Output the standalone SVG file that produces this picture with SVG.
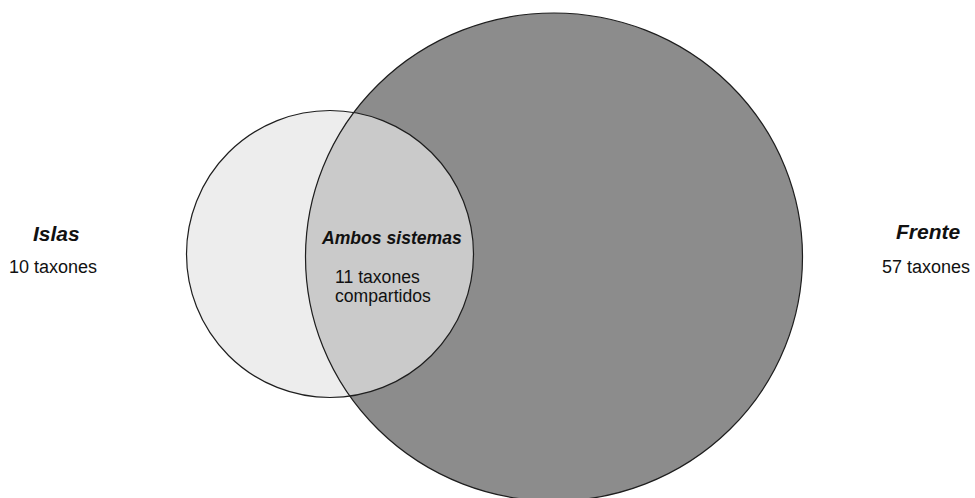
<svg xmlns="http://www.w3.org/2000/svg" width="975" height="498" viewBox="0 0 975 498">
  <style>
    .outline { fill: none; stroke: #1e1e1e; stroke-width: 1.2; }
    .title { font-family: "Liberation Sans", Arial, sans-serif; font-weight: bold; font-style: italic; fill: #111; }
    .body { font-family: "Liberation Sans", Arial, sans-serif; fill: #111; }
  </style>
  <defs>
    <clipPath id="clipSmall">
      <circle cx="330" cy="254" r="143.5"/>
    </clipPath>
  </defs>
  <rect width="975" height="498" fill="#ffffff"/>
  <g id="islas">
    <circle cx="330" cy="254" r="143.5" fill="#ededed"/>
  </g>
  <g id="frente">
    <ellipse cx="554" cy="257" rx="248.5" ry="244" fill="#8c8c8c"/>
  </g>
  <g id="ambos">
    <ellipse cx="554" cy="257" rx="248.5" ry="244" fill="#cacaca" clip-path="url(#clipSmall)"/>
  </g>
  <g id="outlines">
    <circle class="outline" cx="330" cy="254" r="143.5"/>
    <ellipse class="outline" cx="554" cy="257" rx="248.5" ry="244"/>
  </g>
  <g id="labels">
    <text class="title" x="33" y="241" font-size="21">Islas</text>
    <text class="body" x="9" y="273" font-size="18">10 taxones</text>
    <text class="title" x="896" y="239" font-size="21">Frente</text>
    <text class="body" x="882" y="273" font-size="18">57 taxones</text>
    <text class="title" x="322" y="244" font-size="17.6">Ambos sistemas</text>
    <text class="body" x="335" y="283" font-size="17.6">11 taxones</text>
    <text class="body" x="335" y="302" font-size="17.6">compartidos</text>
  </g>
</svg>
